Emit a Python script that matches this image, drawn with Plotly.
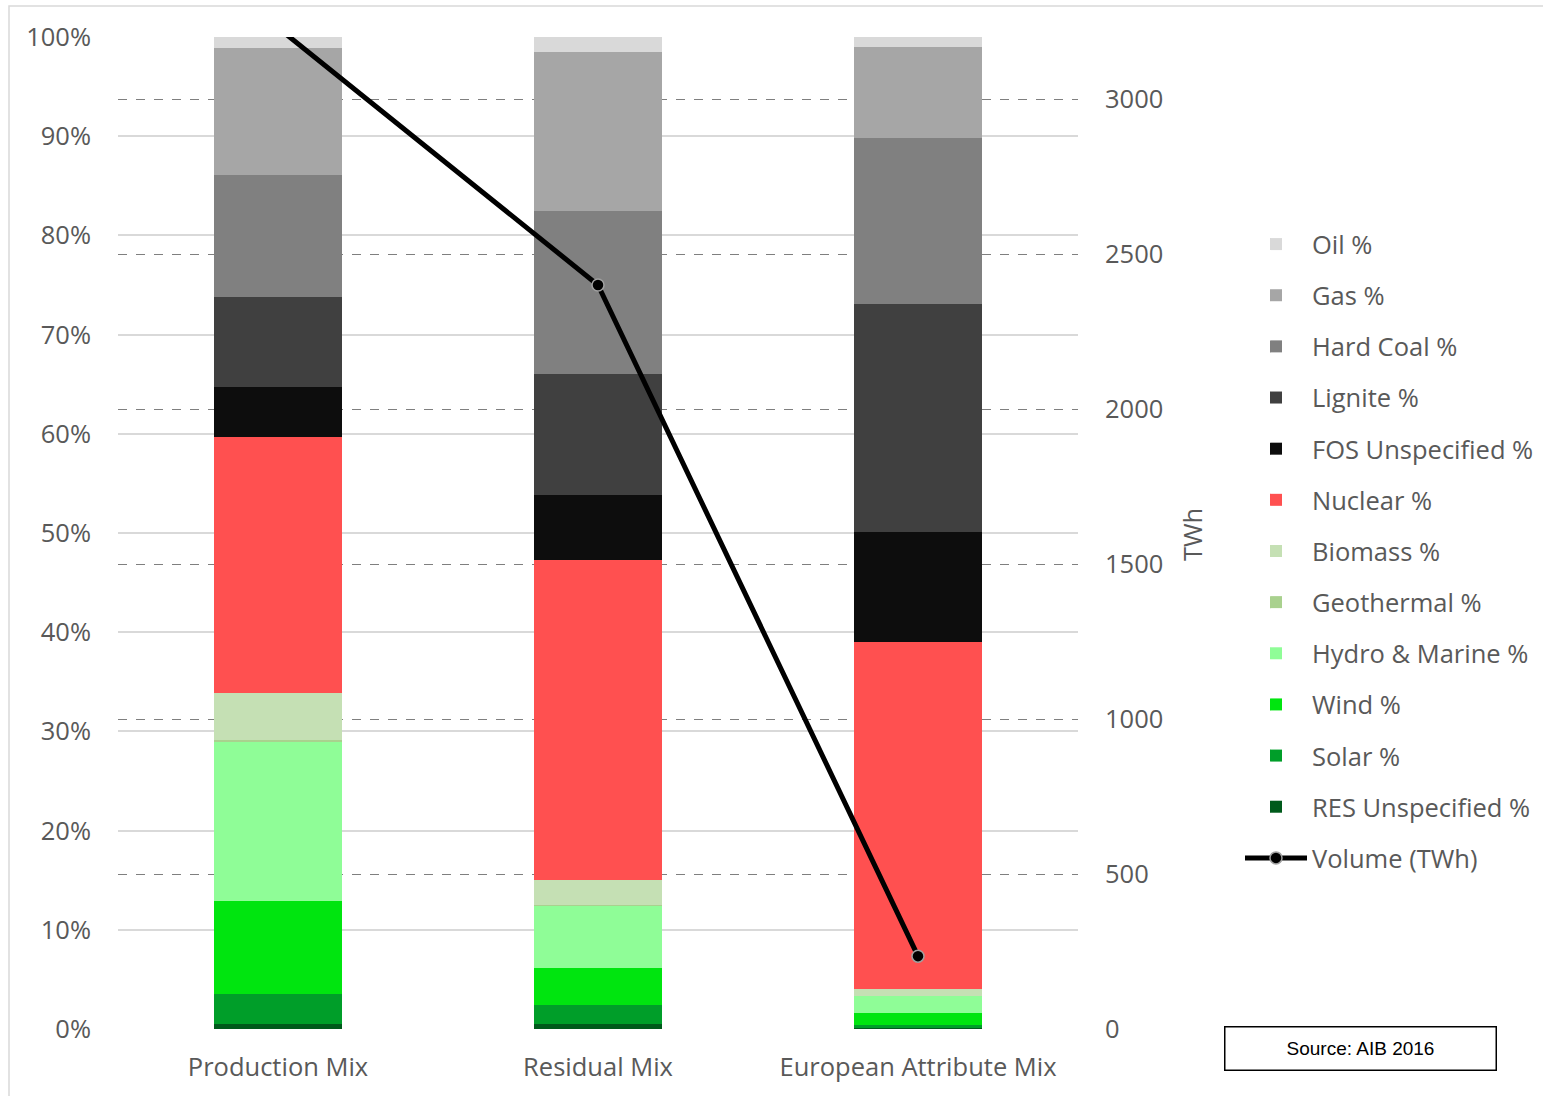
import plotly.graph_objects as go

categories = ["Production Mix", "Residual Mix", "European Attribute Mix"]

# percentages per source (bottom to top of stack)
res_unspecified = [0.5, 0.5, 0.1]
solar = [3.0, 1.9, 0.3]
wind = [9.4, 3.8, 1.2]
hydro_marine = [16.1, 6.2, 1.7]
geothermal = [0.1, 0.1, 0.0]
biomass = [4.8, 2.5, 0.7]
nuclear = [25.8, 32.3, 35.0]
fos_unspecified = [5.0, 6.5, 11.1]
lignite = [9.1, 12.2, 23.0]
hard_coal = [12.3, 16.5, 16.7]
gas = [12.8, 16.0, 9.2]
oil = [1.1, 1.5, 1.0]

volume_twh = [3230, 2400, 235]

series = [
    ("RES Unspecified %", res_unspecified, "#005a1b"),
    ("Solar %", solar, "#009e29"),
    ("Wind %", wind, "#00e50f"),
    ("Hydro & Marine %", hydro_marine, "#8ffd97"),
    ("Geothermal %", geothermal, "#a9d18e"),
    ("Biomass %", biomass, "#c5e0b4"),
    ("Nuclear %", nuclear, "#ff5050"),
    ("FOS Unspecified %", fos_unspecified, "#0d0d0d"),
    ("Lignite %", lignite, "#404040"),
    ("Hard Coal %", hard_coal, "#808080"),
    ("Gas %", gas, "#a6a6a6"),
    ("Oil %", oil, "#d9d9d9"),
]

FONT = "Open Sans"
TXT = "#595959"
FS = 25.5

fig = go.Figure()
n = len(series)
for i, (name, vals, col) in enumerate(series):
    fig.add_trace(go.Bar(
        x=categories, y=vals, name=name, marker_color=col,
        marker_line_width=0, width=0.4,
        legendrank=n - i, legendgroup=name,
    ))

fig.add_trace(go.Scatter(
    x=categories, y=volume_twh, name="Volume (TWh)", yaxis="y2",
    mode="lines+markers", line=dict(color="black", width=5),
    marker=dict(size=12, color="black", line=dict(color="#a0a0a0", width=1.5)),
    legendrank=n + 1, legendgroup="vol",
))

W, H = 1543, 1096
L, R, T, B = 118, 1078, 37, 1029
pw, ph = R - L, B - T

def px(x):
    return (x - L) / pw

def py(y):
    return (B - y) / ph

fig.update_layout(
    width=W, height=H,
    margin=dict(l=L, r=W - R, t=T, b=H - B, autoexpand=False),
    paper_bgcolor="white", plot_bgcolor="white",
    barmode="stack", bargap=0.6,
    font=dict(family=FONT, size=FS, color=TXT),
    xaxis=dict(
        showgrid=False, showline=False, ticks="",
        tickfont=dict(size=FS, color=TXT), ticklabelstandoff=20,
        range=[-0.5, 2.5],
    ),
    yaxis=dict(
        range=[0, 100], tickvals=list(range(0, 101, 10)),
        ticktext=[f"{v}%" for v in range(0, 101, 10)],
        showgrid=True, gridcolor="#d9d9d9", gridwidth=1.5,
        zeroline=False, showline=False, ticks="",
        tickfont=dict(size=FS, color=TXT), ticklabelstandoff=26,
    ),
    yaxis2=dict(
        overlaying="y", side="right", range=[0, 3200],
        tickvals=list(range(0, 3001, 500)),
        showgrid=True, gridcolor="#7f7f7f", griddash="dash", gridwidth=1,
        zeroline=False, showline=False, ticks="",
        tickfont=dict(size=FS, color=TXT), ticklabelstandoff=26,
    ),
    legend=dict(
        x=px(1240), y=py(221), xanchor="left", yanchor="top",
        traceorder="grouped", tracegroupgap=15,
        font=dict(size=FS, color=TXT), itemwidth=62,
        bgcolor="rgba(0,0,0,0)",
    ),
    showlegend=True,
)

fig.add_annotation(
    text="TWh", xref="paper", yref="paper", x=px(1192), y=py(535),
    textangle=-90, showarrow=False, font=dict(size=FS, color=TXT),
    xanchor="center", yanchor="middle",
)

fig.add_annotation(
    text="Source: AIB 2016", xref="paper", yref="paper",
    x=px(1360.5), y=py(1048), showarrow=False,
    font=dict(family="Liberation Sans, Arial", size=19, color="black"),
    bordercolor="black", borderwidth=1.5, borderpad=2,
    width=266, height=38, xanchor="center", yanchor="middle",
)

# outer chart border
fig.add_shape(
    type="rect", xref="paper", yref="paper",
    x0=px(9), x1=px(1560), y0=py(1110), y1=py(6),
    line=dict(color="#d9d9d9", width=1.5), fillcolor="rgba(0,0,0,0)",
    layer="below",
)

fig.write_html("out.html")
